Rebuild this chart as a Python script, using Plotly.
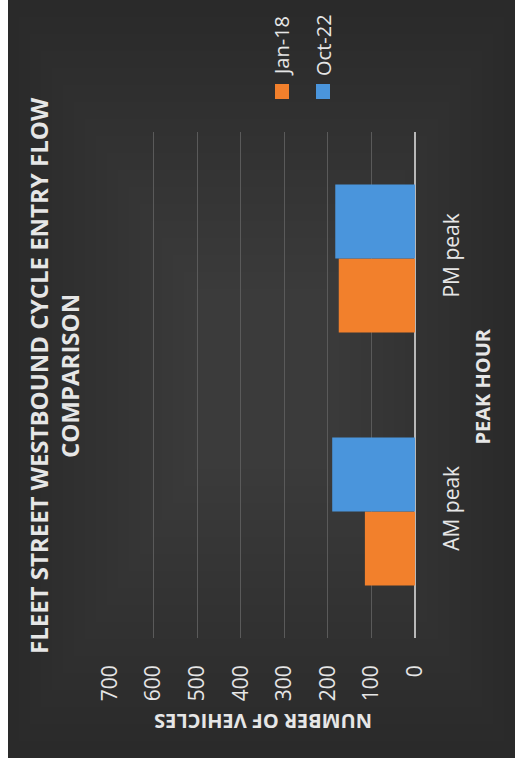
import plotly.graph_objects as go

categories = ["AM peak", "PM peak"]
series_names = ["Jan-18", "Oct-22"]
jan18 = [115, 175]
oct22 = [190, 183]
value_ticks = [0, 100, 200, 300, 400, 500, 600, 700]

title_text = "FLEET STREET WESTBOUND CYCLE ENTRY FLOW<br>COMPARISON"
x_title = "NUMBER OF VEHICLES"
y_title = "PEAK HOUR"

ORANGE = "#F2802C"
BLUE = "#4A95DC"
FONT = "Open Sans"
TXT = "#E6E6E6"

W, H = 515, 764
L, R, T, B = 110, 100, 132, 126
PW, PH = W - L - R, H - T - B


def px(xp):
    return (xp - L) / PW


def py(yp):
    return (H - B - yp) / PH


fig = go.Figure()
fig.add_trace(go.Bar(y=categories, x=jan18, name=series_names[0], orientation="h",
                     marker=dict(color=ORANGE, line=dict(width=0))))
fig.add_trace(go.Bar(y=categories, x=oct22, name=series_names[1], orientation="h",
                     marker=dict(color=BLUE, line=dict(width=0))))

shapes = []
# dark chart background with a smooth lightening toward the centre
n_steps = 18
for i in range(n_steps):
    g = 0x2a + i
    ix = i * 11
    iy = i * 17
    shapes.append(dict(type="rect", xref="paper", yref="paper", layer="below",
                       x0=px(8 + ix), x1=px(515 - ix), y0=py(758 - iy), y1=py(0 + iy),
                       fillcolor="#%02x%02x%02x" % (g, g, g), line=dict(width=0)))
# legend swatches
shapes.append(dict(type="rect", xref="paper", yref="paper",
                   x0=px(275), x1=px(289), y0=py(99), y1=py(84),
                   fillcolor=ORANGE, line=dict(width=0)))
shapes.append(dict(type="rect", xref="paper", yref="paper",
                   x0=px(316), x1=px(330), y0=py(99), y1=py(84),
                   fillcolor=BLUE, line=dict(width=0)))

annotations = [
    dict(text="<b>" + title_text.replace("<br>", "</b><br><b>") + "</b>", xref="paper", yref="paper",
         x=px(54), y=py(376), textangle=-90, showarrow=False,
         font=dict(family=FONT, size=24, color=TXT), xanchor="center", yanchor="middle"),
    dict(text="<b>" + x_title + "</b>", xref="paper", yref="paper",
         x=px(263.5), y=py(721.5), textangle=180, showarrow=False,
         font=dict(family=FONT, size=20, color=TXT), xanchor="center", yanchor="middle"),
    dict(text="<b>" + y_title + "</b>", xref="paper", yref="paper",
         x=px(481.5), y=py(387), textangle=-90, showarrow=False,
         font=dict(family=FONT, size=20, color=TXT), xanchor="center", yanchor="middle"),
    dict(text=series_names[0], xref="paper", yref="paper",
         x=px(282), y=py(78), textangle=-90, showarrow=False,
         font=dict(family=FONT, size=20, color=TXT), xanchor="center", yanchor="bottom"),
    dict(text=series_names[1], xref="paper", yref="paper",
         x=px(324), y=py(78), textangle=-90, showarrow=False,
         font=dict(family=FONT, size=20, color=TXT), xanchor="center", yanchor="bottom"),
]

fig.update_layout(
    width=W, height=H,
    margin=dict(l=L, r=R, t=T, b=B, pad=0),
    paper_bgcolor="white",
    plot_bgcolor="rgba(0,0,0,0)",
    barmode="group",
    bargap=0.415,
    bargroupgap=0,
    showlegend=False,
    shapes=shapes,
    annotations=annotations,
    xaxis=dict(range=[700, 0], tickvals=value_ticks, ticktext=[str(v) for v in value_ticks],
               tickangle=-90, showgrid=True, gridcolor="#5a5a5a", gridwidth=1,
               zeroline=True, zerolinecolor="#b8b8b8", zerolinewidth=1.5,
               showline=False, ticks="", ticklabelstandoff=22,
               tickfont=dict(family=FONT, size=21, color=TXT)),
    yaxis=dict(side="right", tickangle=-90, showgrid=False, zeroline=False,
               showline=False, ticks="", ticklabelstandoff=22,
               tickfont=dict(family=FONT, size=21, color=TXT)),
)

fig.write_html("out.html", config={"displayModeBar": False},
               post_script="document.body.style.margin='0';")
